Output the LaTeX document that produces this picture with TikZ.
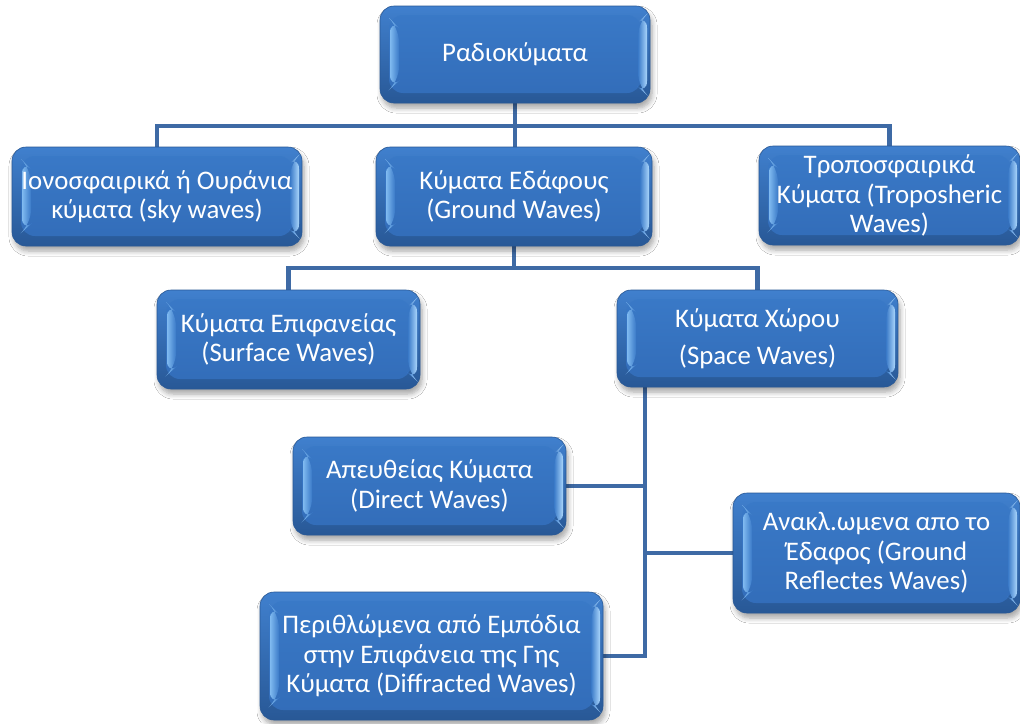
\documentclass[tikz,border=0pt]{standalone}
\usepackage{fontspec}
\setmainfont{Carlito}
\usetikzlibrary{shadows.blur,backgrounds,calc}

\definecolor{faceblue}{RGB}{58,122,200}
\definecolor{facelow}{RGB}{50,108,184}
\definecolor{rimtop}{RGB}{64,128,206}
\definecolor{rimbot}{RGB}{40,88,150}
\definecolor{glintL}{RGB}{128,186,240}
\definecolor{glintR}{RGB}{170,214,252}
\definecolor{linkblue}{RGB}{62,106,165}

\newcommand\wavefont{\fontsize{26.8}{29.5}\selectfont}

% bevel: inner face and the two side highlights
\newcommand\bevelart{%
  \shade[top color=faceblue, bottom color=facelow]
    ($(path picture bounding box.north west)+(9,9)$) rectangle
    ($(path picture bounding box.south east)+(-9,-10)$);
  \shade[left color=glintL, right color=faceblue]
    ($(path picture bounding box.north west)+(10,13)$) --
    ($(path picture bounding box.north west)+(19,22)$) --
    ($(path picture bounding box.south west)+(19,-22)$) --
    ($(path picture bounding box.south west)+(10,-14)$) -- cycle;
  \shade[left color=faceblue, right color=glintR]
    ($(path picture bounding box.north east)+(-12,16)$) --
    ($(path picture bounding box.north east)+(-3,8)$) --
    ($(path picture bounding box.south east)+(-3,-8)$) --
    ($(path picture bounding box.south east)+(-12,-16)$) -- cycle;
}

\tikzset{
  wbox/.style={rounded corners=14pt, draw=rimbot, line width=0.6pt,
    top color=rimtop, bottom color=rimbot, text=white, align=center,
    inner sep=0pt, font=\wavefont,
    blur shadow={shadow xshift=2pt, shadow yshift=-5pt, shadow blur steps=6,
      shadow opacity=35, shadow blur radius=5pt},
    path picture={\bevelart}},
  conn/.style={draw=linkblue, line width=4.5pt}
}

% \wavebox{name}{x1}{y1}{x2}{y2}{text}
\newcommand\wavebox[6]{%
  \node[wbox, minimum width={(#4)-(#2)}, minimum height={(#5)-(#3)}]
    (#1) at ({((#2)+(#4))/2},{((#3)+(#5))/2}) {#6};}

\begin{document}
\begin{tikzpicture}[x=1pt,y=-1pt]
  \useasboundingbox (0,0) rectangle (1020,723);

  \wavebox{root}{380}{6}{650}{103}{Ραδιοκύματα}
  \wavebox{iono}{12}{147}{302}{246}{Ιονοσφαιρικά ή Ουράνια\\κύματα (sky waves)}
  \wavebox{ground}{376}{147}{652}{246}{Κύματα Εδάφους\\(Ground Waves)}
  \wavebox{tropo}{759}{146}{1020}{245}{Τροποσφαιρικά\\Κύματα (Troposheric\\Waves)}
  \wavebox{surface}{157}{290}{420}{389}{Κύματα Επιφανείας\\(Surface Waves)}
  \wavebox{space}{617}{290}{898}{387}{Κύματα Χώρου\\[7pt](Space Waves)}
  \wavebox{direct}{293}{437}{566}{535}{Απευθείας Κύματα\\(Direct Waves)}
  \wavebox{reflect}{733}{493}{1020}{613}{Ανακλ.ωμενα απο το\\Έδαφος (Ground\\Reflectes Waves)}
  \wavebox{diffr}{260}{592}{603}{720}{Περιθλώμενα από Εμπόδια\\στην Επιφάνεια της Γης\\Κύματα (Diffracted Waves)}

  % bus lines
  \coordinate (tbus) at (515,126);
  \coordinate (gbus) at (514,268);
  \coordinate (sbus) at (645,656);

  \begin{scope}[on background layer]
    \fill[white] (0,0) rectangle (1020,723);
    \draw[conn] (root.south) -- (root.south |- tbus) -| (iono.north);
    \draw[conn] (root.south) -- (root.south |- tbus) -| (tropo.north);
    \draw[conn] (root.south) -- (ground.north -| root.south);
    \draw[conn] (ground.south) -- (ground.south |- gbus) -| (surface.north);
    \draw[conn] (ground.south) -- (ground.south |- gbus) -| (space.north);
    \draw[conn] (space.south -| sbus) |- (direct.east);
    \draw[conn] (space.south -| sbus) |- (reflect.west);
    \draw[conn] (space.south -| sbus) |- (diffr.east);
  \end{scope}
\end{tikzpicture}
\end{document}
